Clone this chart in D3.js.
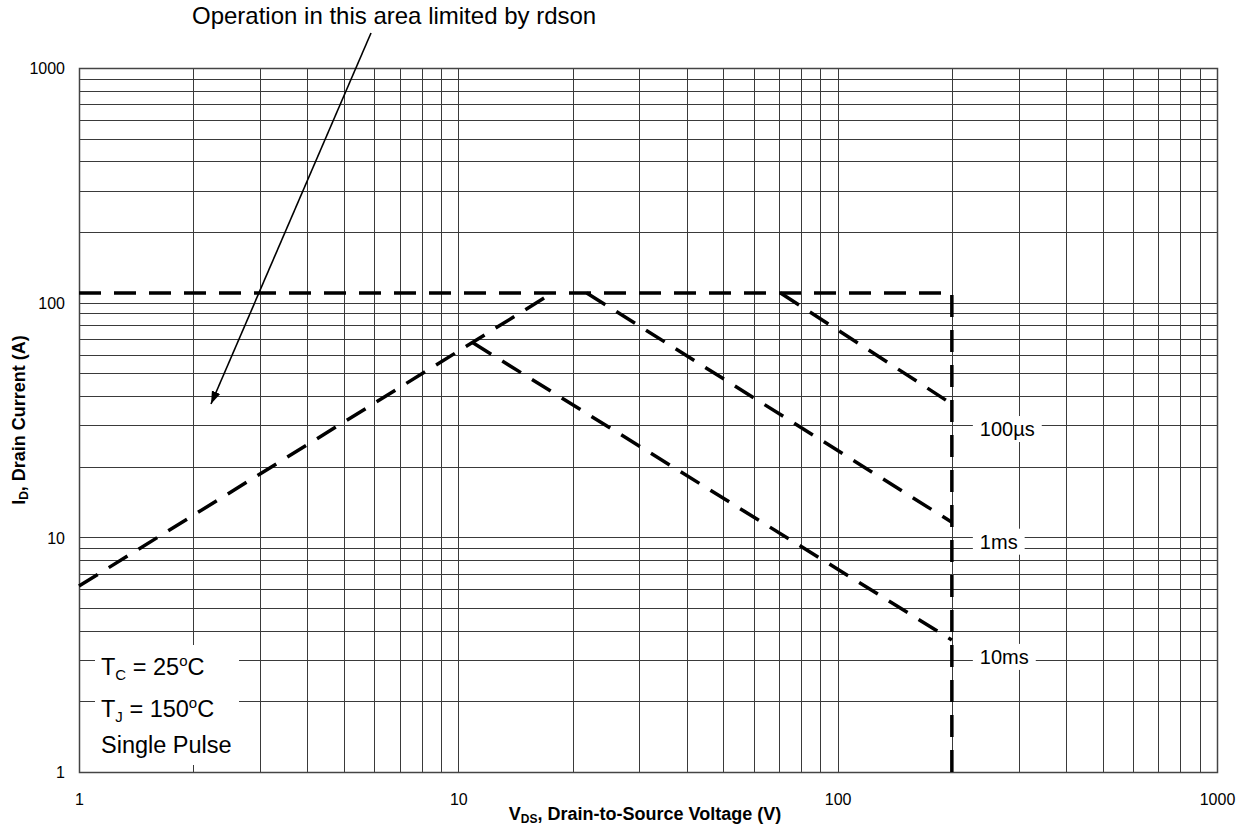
<!DOCTYPE html>
<html>
<head>
<meta charset="utf-8">
<script src="https://cdn.jsdelivr.net/npm/d3@7/dist/d3.min.js"></script>
<style>
  html, body { margin: 0; padding: 0; background: #fff; }
  svg { display: block; font-family: "Liberation Sans", Arial, sans-serif; }
</style>
</head>
<body>
<svg id="chart" width="1252" height="831"></svg>
<script>
// ---- data ----
const xTicks = [1, 10, 100, 1000];
const yTicks = [1, 10, 100, 1000];
const minorMult = [2, 3, 4, 5, 6, 7, 8, 9];

// package current limit (horizontal) then breakdown voltage (vertical)
const limitV = [1, 200, 200];
const limitI = [110, 110, 1];
// rds(on) limit line
const rdsonV = [1, 17.7];
const rdsonI = [6.2, 110];
// pulse-width lines
const us100V = [70.7, 200];
const us100I = [110, 37];
const ms1V = [21.8, 200];
const ms1I = [110, 11.6];
const ms10V = [10.9, 200];
const ms10I = [67.6, 3.65];

const pulseLabels = ["100\u00b5s", "1ms", "10ms"];
const pulseLabelI = [29, 9.6, 3.1];

// ---- layout ----
const svg = d3.select("#chart");
const L = 79, R = 1217, T = 68, B = 772;
const x = d3.scaleLog().domain([1, 1000]).range([L, R]);
const y = d3.scaleLog().domain([1, 1000]).range([B, T]);

const gridColor = "#3a3a3a";

// grid
const gGrid = svg.append("g");
const xGridVals = [];
const yGridVals = [];
[1, 10, 100].forEach(d => { xGridVals.push(d); minorMult.forEach(m => xGridVals.push(d * m)); });
[1, 10, 100].forEach(d => { yGridVals.push(d); minorMult.forEach(m => yGridVals.push(d * m)); });
gGrid.selectAll("line.vx").data(xGridVals).join("line")
  .attr("x1", d => Math.round(x(d)) + 0.5).attr("x2", d => Math.round(x(d)) + 0.5)
  .attr("y1", T).attr("y2", B)
  .attr("stroke", gridColor).attr("stroke-width", 1);
gGrid.selectAll("line.hy").data(yGridVals).join("line")
  .attr("y1", d => Math.round(y(d)) + 0.5).attr("y2", d => Math.round(y(d)) + 0.5)
  .attr("x1", L).attr("x2", R)
  .attr("stroke", gridColor).attr("stroke-width", 1);

// frame
svg.append("rect").attr("x", L + 0.5).attr("y", T + 0.5)
  .attr("width", R - L).attr("height", B - T)
  .attr("fill", "none").attr("stroke", "#444").attr("stroke-width", 1.5);

// white label boxes (hide grid under annotation texts)
const gBoxes = svg.append("g");
const gText = svg.append("g");

// axes tick labels
const xAxis = d3.axisBottom(x).tickValues(xTicks).tickSize(0).tickPadding(0).tickFormat(d3.format("d"));
const gx = svg.append("g").attr("transform", `translate(0,${B})`).call(xAxis);
gx.select(".domain").remove();
gx.selectAll("text").attr("font-size", 16).attr("fill", "#000")
  .attr("font-family", "Liberation Sans, Arial, sans-serif")
  .attr("dy", null).attr("y", 33);

const yAxis = d3.axisLeft(y).tickValues(yTicks).tickSize(0).tickPadding(0).tickFormat(d3.format("d"));
const gy = svg.append("g").attr("transform", `translate(${L},0)`).call(yAxis);
gy.select(".domain").remove();
gy.selectAll("text").attr("font-size", 16).attr("fill", "#000")
  .attr("font-family", "Liberation Sans, Arial, sans-serif")
  .attr("x", -14).attr("dy", "0.36em");

// dashed lines
const line = d3.line().x(d => x(d[0])).y(d => y(d[1]));
const series = [
  [limitV, limitI],
  [rdsonV, rdsonI],
  [us100V, us100I],
  [ms1V, ms1I],
  [ms10V, ms10I]
];
const gLines = svg.append("g");
series.forEach(([vs, is]) => {
  gLines.append("path")
    .attr("d", line(vs.map((v, i) => [v, is[i]])))
    .attr("fill", "none").attr("stroke", "#000")
    .attr("stroke-width", 3.5).attr("stroke-dasharray", "22,13")
    .attr("stroke-linecap", "butt");
});

// pulse labels with white background
pulseLabels.forEach((lab, i) => {
  const t = gText.append("text")
    .attr("x", x(200) + 28).attr("y", y(pulseLabelI[i]))
    .attr("dy", "0.36em")
    .attr("font-size", 20).attr("fill", "#000")
    .text(lab);
  const bb = t.node().getBBox();
  gBoxes.append("rect").attr("x", bb.x - 7).attr("y", bb.y - 2)
    .attr("width", bb.width + 14).attr("height", bb.height + 4).attr("fill", "#fff");
});

// conditions annotation
const cond = gText.append("g");
const c1 = cond.append("text").attr("x", 101).attr("y", 675).attr("font-size", 23.5);
c1.append("tspan").text("T");
c1.append("tspan").attr("font-size", 15).attr("dy", 5).text("C");
c1.append("tspan").attr("dy", -5).text(" = 25");
c1.append("tspan").attr("font-size", 15).attr("dy", -9).text("o");
c1.append("tspan").attr("dy", 9).text("C");
const c2 = cond.append("text").attr("x", 101).attr("y", 717).attr("font-size", 23.5);
c2.append("tspan").text("T");
c2.append("tspan").attr("font-size", 15).attr("dy", 5).text("J");
c2.append("tspan").attr("dy", -5).text(" = 150");
c2.append("tspan").attr("font-size", 15).attr("dy", -9).text("o");
c2.append("tspan").attr("dy", 9).text("C");
cond.append("text").attr("x", 101).attr("y", 753).attr("font-size", 23.5).text("Single Pulse");
gBoxes.append("rect").attr("x", 95).attr("y", 645).attr("width", 144).attr("height", 120).attr("fill", "#fff");

// top annotation and arrow
gText.append("text").attr("x", 192).attr("y", 24).attr("font-size", 24).attr("fill", "#000")
  .text("Operation in this area limited by rdson");
const defs = svg.append("defs");
defs.append("marker").attr("id", "arr").attr("viewBox", "0 0 10 10")
  .attr("refX", 10).attr("refY", 5).attr("markerWidth", 8).attr("markerHeight", 8)
  .attr("markerUnits", "strokeWidth").attr("orient", "auto")
  .append("path").attr("d", "M0,1.5 L10,5 L0,8.5 Z").attr("fill", "#000");
gText.append("line").attr("x1", 371).attr("y1", 33).attr("x2", 211).attr("y2", 404)
  .attr("stroke", "#000").attr("stroke-width", 1.6).attr("marker-end", "url(#arr)");

// axis titles
const xt = svg.append("text").attr("x", 645).attr("y", 820)
  .attr("text-anchor", "middle").attr("font-size", 18).attr("font-weight", "bold");
xt.append("tspan").text("V");
xt.append("tspan").attr("font-size", 12).attr("dy", 3).text("DS");
xt.append("tspan").attr("dy", -3).text(", Drain-to-Source Voltage (V)");

const yt = svg.append("text").attr("transform", `translate(25,420) rotate(-90)`)
  .attr("text-anchor", "middle").attr("font-size", 18).attr("font-weight", "bold");
yt.append("tspan").text("I");
yt.append("tspan").attr("font-size", 12).attr("dy", 3).text("D");
yt.append("tspan").attr("dy", -3).text(", Drain Current (A)");
</script>
</body>
</html>
